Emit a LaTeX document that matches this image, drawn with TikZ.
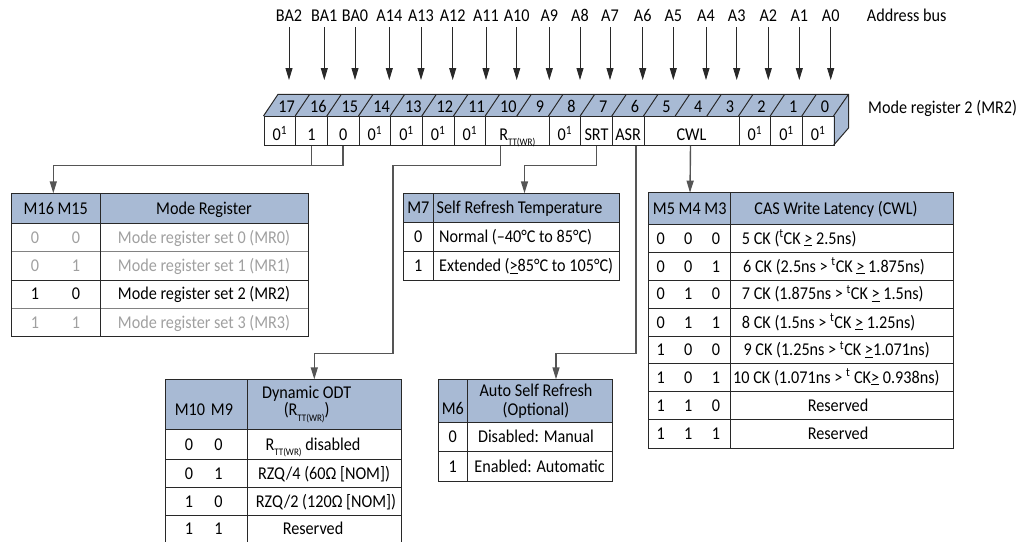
\documentclass[tikz,border=0pt]{standalone}
\usepackage{fontspec}
\setmainfont{Carlito}[FakeStretch=0.9]
\usetikzlibrary{arrows.meta}
\definecolor{hdr}{RGB}{168,186,212}
\definecolor{gtext}{RGB}{160,160,160}
\definecolor{lin}{RGB}{40,40,40}
\definecolor{sepgray}{RGB}{130,130,130}
\definecolor{cline}{RGB}{85,85,85}
\newcommand\fmain{\fontsize{18}{20}\selectfont}
\newcommand\rttsub{R\raisebox{-0.3em}{\fontsize{10}{10}\selectfont TT(WR)}}
\newcommand\zo{0\textsuperscript{1}}
\newcommand\gequ{\underline{>}}
\newcommand\tck{\textsuperscript{t}CK}
\begin{document}
\begin{tikzpicture}[x=1pt,y=-1pt,line join=miter,
  reg/.style={draw=lin,line width=1pt},
  cell/.style={draw=lin,line width=1pt,minimum height=29.3pt,inner sep=0pt,anchor=west,font=\fmain,text height=19.7pt,text depth=0pt},
  bandnum/.style={font=\fmain,inner sep=0pt,anchor=base},
  addr/.style={font=\fmain,inner xsep=0pt,inner ysep=6pt,text depth=0pt,anchor=base},
  arr/.style={draw=lin,line width=0.9pt,-{Triangle[length=12pt,width=7pt]}},
  conn/.style={draw=cline,line width=1.4pt},
  connarr/.style={conn,-{Triangle[length=12pt,width=7pt]}},
  tabline/.style={draw=lin,line width=1pt},
  tabsep/.style={draw=sepgray,line width=1pt},
  tx/.style={font=\fmain,inner sep=0pt,text height=13.5pt,text depth=2pt},
  gtx/.style={tx,text=gtext}]
\useasboundingbox (0,0) rectangle (1030,541);

% ---------- address bus ----------
\foreach \x/\t in {289/BA2,324.3/BA1,355/BA0,389.3/A14,421/A13,452.7/A12,486/A11,516.7/A10,549.3/A9,580/A8,610/A7,642.7/A6,673.3/A5,706/A4,736.7/A3,768.3/A2,799.3/A1,830.7/A0}{
  \node[addr] (l\t) at (\x,21) {\t};
  \coordinate (e\t) at (\x,80);
  \draw[arr] (l\t.south) -- (e\t);
}
\node[font=\fmain,anchor=base west,inner sep=0pt] (abus) at (866.7,21) {Address bus};
\node[font=\fmain,anchor=base west,inner sep=0pt] (mr2) at (868,113) {Mode register 2 (MR2)};

% ---------- register: top band and side face ----------
\fill[hdr] (263.5,116) -- (278,94.3) -- (848.5,94.3) -- (833.5,116) -- cycle;
\fill[hdr] (833.5,116) -- (848.5,94.3) -- (848.5,128) -- (833.5,145.3) -- cycle;
\draw[reg] (263.5,116) -- (278,94.3) -- (848.5,94.3) -- (848.5,128) -- (833.5,145.3);
\draw[reg] (833.5,116) -- (848.5,94.3);
\foreach \i in {1,...,17}{
  \draw[reg] ({263.5+\i*31.667},116) -- ++(14.5,-21.7);
}
\foreach \i in {0,...,17}{
  \pgfmathtruncatemacro\b{17-\i}
  \node[bandnum] (n\b) at ({263.5+\i*31.667+15.83+7.25},112) {\b};
}

% ---------- register: bottom row cells ----------
\node[cell,minimum width=31.667pt] (c17) at (263.5,130.65) {\zo};
\node[cell,minimum width=31.667pt] (c16) at (295.167,130.65) {1};
\node[cell,minimum width=31.667pt] (c15) at (326.833,130.65) {0};
\node[cell,minimum width=31.667pt] (c14) at (358.5,130.65) {\zo};
\node[cell,minimum width=31.667pt] (c13) at (390.167,130.65) {\zo};
\node[cell,minimum width=31.667pt] (c12) at (421.833,130.65) {\zo};
\node[cell,minimum width=31.667pt] (c11) at (453.5,130.65) {\zo};
\node[cell,minimum width=63.333pt] (rtt) at (485.167,130.65) {\rttsub};
\node[cell,minimum width=31.667pt] (c8) at (548.5,130.65) {\zo};
\node[cell,minimum width=31.667pt] (srt) at (580.167,130.65) {SRT};
\node[cell,minimum width=31.667pt] (asr) at (611.833,130.65) {ASR};
\node[cell,minimum width=95pt] (cwl) at (643.5,130.65) {CWL};
\node[cell,minimum width=31.667pt] (c2) at (738.5,130.65) {\zo};
\node[cell,minimum width=31.667pt] (c1) at (770.167,130.65) {\zo};
\node[cell,minimum width=31.667pt] (c0) at (801.833,130.65) {\zo};

% ---------- connector targets ----------
\coordinate (busy) at (0,165.7);
\coordinate (mrtop) at (53.3,193.3);
\coordinate (m7top) at (524.5,193.3);
\coordinate (cwltop) at (690,192.7);
\coordinate (odttop) at (314.3,379.3);
\coordinate (astop) at (556,379.3);
\coordinate (odtbend) at (393,353.3);

\draw[conn] (c16.south) -- (c16.south |- busy);
\draw[connarr] (c15.south) |- (mrtop |- busy) -- (mrtop);
\draw[connarr] ([xshift=-16.8pt]rtt.south) |- (odtbend |- busy) -- (odtbend) -| (odttop);
\draw[connarr] (srt.south) |- (m7top |- busy) -- (m7top);
\draw[connarr] ([xshift=8pt]asr.south) |- (astop |- odtbend) -- (astop);
\draw[connarr] ([xshift=-1pt]cwl.south) -- (cwltop);

% ---------- Mode Register table ----------
\fill[hdr] (11.7,193.3) rectangle (308.3,223.3);
\draw[tabsep] (11.7,251.7) -- (308.3,251.7);
\draw[tabsep] (11.7,308.3) -- (308.3,308.3);
\draw[tabline] (11.7,280) -- (308.3,280);
\draw[tabline] (11.7,223.3) -- (308.3,223.3);
\draw[tabline] (100,193.3) -- (100,336.7);
\draw[tabline] (11.7,193.3) rectangle (308.3,336.7);
\node[tx] (mrh1) at (55.8,208.3) {M16 M15};
\node[tx] (mrh2) at (204,208.3) {Mode Register};
\node[gtx] at (35,237.5) {0}; \node[gtx] at (76,237.5) {0};
\node[gtx] at (204,237.5) {Mode register set 0 (MR0)};
\node[gtx] at (35,265.85) {0}; \node[gtx] at (76,265.85) {1};
\node[gtx] at (204,265.85) {Mode register set 1 (MR1)};
\node[tx] at (35,294.15) {1}; \node[tx] at (76,294.15) {0};
\node[tx] at (204,294.15) {Mode register set 2 (MR2)};
\node[gtx] at (35,322.5) {1}; \node[gtx] at (76,322.5) {1};
\node[gtx] at (204,322.5) {Mode register set 3 (MR3)};

% ---------- Self Refresh Temperature table ----------
\fill[hdr] (403.3,193.3) rectangle (619.3,222.3);
\draw[tabline] (403.3,222.3) -- (619.3,222.3);
\draw[tabline] (403.3,251.7) -- (619.3,251.7);
\draw[tabline] (433.3,193.3) -- (433.3,280);
\draw[tabline] (403.3,193.3) rectangle (619.3,280);
\node[tx] at (418.3,207.8) {M7};
\node[tx,anchor=west] at (436.5,207.8) {Self Refresh Temperature};
\node[tx] at (418.3,237) {0};
\node[tx,anchor=west] at (439,237) {Normal (–40°C to 85°C)};
\node[tx] at (418.3,265.85) {1};
\node[tx,anchor=west] at (439,265.85) {Extended (\gequ85°C to 105°C)};

% ---------- CAS Write Latency table ----------
\fill[hdr] (648.3,192.7) rectangle (953.3,224);
\foreach \y in {224,252.7,280,308.3,336.7,363.3,391.7,419.3}{
  \draw[tabline] (648.3,\y) -- (953.3,\y);
}
\draw[tabline] (730,192.7) -- (730,448.3);
\draw[tabline] (648.3,192.7) rectangle (953.3,448.3);
\node[tx] at (689.7,208.3) {M5 M4 M3};
\node[tx] at (836,208.3) {CAS Write Latency (CWL)};
\foreach \y/\a/\b/\c in {238.35/0/0/0,266.35/0/0/1,294.15/0/1/0,322.5/0/1/1,350/1/0/0,377.5/1/0/1,405.5/1/1/0,433.8/1/1/1}{
  \node[tx] at (660.7,\y) {\a};
  \node[tx] at (688.3,\y) {\b};
  \node[tx] at (716,\y) {\c};
}
\node[tx,anchor=west] at (741.7,238.35) {5 CK (\tck\ \gequ\ 2.5ns)};
\node[tx,anchor=west] at (743,266.35) {6 CK (2.5ns > \tck\ \gequ\ 1.875ns)};
\node[tx,anchor=west] at (741.7,294.15) {7 CK (1.875ns > \tck\ \gequ\ 1.5ns)};
\node[tx,anchor=west] at (741.7,322.5) {8 CK (1.5ns > \tck\ \gequ\ 1.25ns)};
\node[tx,anchor=west] at (743.3,350) {9 CK (1.25ns > \tck\ \gequ1.071ns)};
\node[tx,anchor=west] at (733,377.5) {10 CK (1.071ns > \textsuperscript{t} CK\gequ\ 0.938ns)};
\node[tx] at (838,405.5) {Reserved};
\node[tx] at (838,433.8) {Reserved};

% ---------- Dynamic ODT table ----------
\fill[hdr] (165,379.3) rectangle (401.7,429.3);
\foreach \y in {429.3,459.3,487.7,515}{
  \draw[tabline] (165,\y) -- (401.7,\y);
}
\draw[tabline] (247.7,379.3) -- (247.7,543);
\draw[tabline] (165,543) -- (165,379.3) -- (401.7,379.3) -- (401.7,543);
\node[tx] at (190,409.3) {M10};
\node[tx] at (222,409.3) {M9};
\node[tx] at (306.7,392.7) {Dynamic ODT};
\node[tx] at (306.7,410) {(\rttsub)};
\foreach \y/\a/\b in {444.3/0/0,473.5/0/1,501.35/1/0,529/1/1}{
  \node[tx] at (189,\y) {\a};
  \node[tx] at (218.5,\y) {\b};
}
\node[tx] at (313,444.3) {\rttsub\ disabled};
\node[tx] at (324,473.5) {RZQ/4 (60Ω [NOM])};
\node[tx] at (326,501.35) {RZQ/2 (120Ω [NOM])};
\node[tx] at (313,529) {Reserved};

% ---------- Auto Self Refresh table ----------
\fill[hdr] (438.3,379.3) rectangle (612.7,422.7);
\draw[tabline] (438.3,422.7) -- (612.7,422.7);
\draw[tabline] (438.3,451.7) -- (612.7,451.7);
\draw[tabline] (467.3,379.3) -- (467.3,481);
\draw[tabline] (438.3,379.3) rectangle (612.7,481);
\node[tx] at (452.8,409) {M6};
\node[tx] at (536,390.7) {Auto Self Refresh};
\node[tx] at (536,410) {(Optional)};
\node[tx] at (452.8,437.2) {0};
\node[tx] at (536,437.2) {Disabled: Manual};
\node[tx] at (452.8,466.35) {1};
\node[tx] at (539.5,466.35) {Enabled: Automatic};
\end{tikzpicture}
\end{document}
